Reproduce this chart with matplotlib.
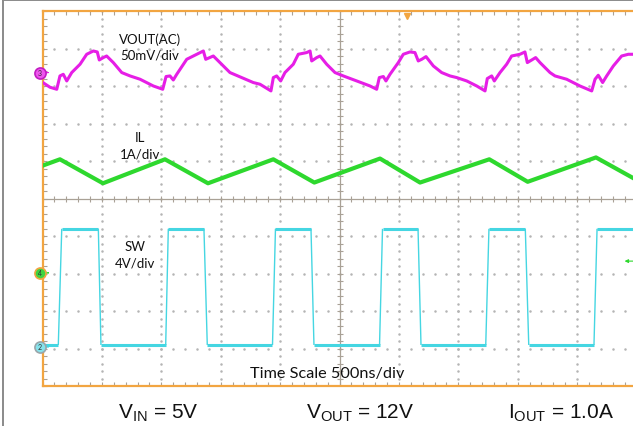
import numpy as np
import matplotlib
matplotlib.use('Agg')
import matplotlib.pyplot as plt
from matplotlib.lines import Line2D
from matplotlib.collections import LineCollection

# scope capture, time in ns (500ns/div, 10 div)
# VOUT(AC) in mV
t_vout = [0, 63, 120, 147, 175, 204, 246, 316, 372, 428, 461, 478, 512, 540, 596, 667,
          737, 821, 933, 1012, 1040, 1073, 1101, 1130, 1214, 1354, 1374, 1438, 1578, 1774,
          1831, 1923, 1943, 1971, 2005, 2041, 2111, 2153, 2224, 2252, 2266, 2308, 2336, 2392,
          2462, 2532, 2645, 2757, 2813, 2835, 2869, 2891, 2925, 2995, 3037, 3093, 3135, 3163,
          3192, 3228, 3290, 3360, 3430, 3487, 3571, 3655, 3725, 3744, 3781, 3803, 3851, 3907,
          3949, 4019, 4061, 4081, 4118, 4151, 4188, 4272, 4314, 4412, 4524, 4623, 4651, 4678,
          4715, 4749, 4805, 4875, 4931, 5000]
vout_mv = [-13, -19.6, -22.3, -4.5, -2.3, -11.2, 0, 11.1, 24.4, 28.8, 27.5, 16.8, 20, 22.1, 13.3, 0,
           -4.5, -8.9, -17.9, -22.3, -5.3, -4.5, -9.9, -2.3, 17.7, 28.8, 17.7, 22.1, 0, -13.3,
           -15.6, -24.5, -6.7, -4.5, -11.2, 0, 11.1, 24.4, 26.7, 28.8, 15.5, 20, 22.1, 11.1,
           0, -4.5, -11.2, -17.9, -22.3, -6.7, -5.3, -11.2, -2.3, 13.3, 24.4, 27.5, 26.7, 15.5,
           17.7, 21.3, 8.8, 0, -4.5, -6.7, -11.2, -17.9, -24.5, -8, -4.5, -11.2, 0, 11.1,
           22.1, 24.4, 27.5, 13.3, 16.8, 20, 13.3, 0, -4.5, -8.9, -17.9, -24.5, -8.9, -3.6,
           -13.3, -4.5, 8.8, 22.1, 24.4, 24.4]

# IL in A
t_il = [0, 147, 509, 1031, 1393, 1943, 2288, 2841, 3178, 3761, 4084, 4659, 5000]
il_a = [2.86, 3.03, 2.39, 3.03, 2.39, 3.03, 2.41, 3.05, 2.41, 3.03, 2.43, 3.08, 2.48]

# SW in V
t_sw = [0, 133, 162, 470, 492, 1037, 1059, 1359, 1387, 1936, 1961, 2260, 2285,
        2837, 2862, 3161, 3186, 3731, 3758, 4064, 4093, 4642, 4668, 5000]
sw_v = [0.2, 0.2, 12.6, 12.6, 0.2, 0.2, 12.6, 12.6, 0.2, 0.2, 12.6, 12.6, 0.2,
        0.2, 12.6, 12.6, 0.2, 0.2, 12.6, 12.6, 0.2, 0.2, 12.6, 12.6]

# channel settings: unit/div, ground marker position (div)
vout_scale, vout_pos = 50.0, 3.365
il_scale, il_pos = 1.0, -1.98
sw_scale, sw_pos = 4.0, -3.955
trig_t = 3066      # trigger position, ns
trig_lvl = -1.667  # ch4 trigger level marker, div

c_vout = '#E61EE6'
c_il = '#2ED82E'
c_sw = '#45D6E2'
c_frame = '#F2A541'
c_grid = '#B4B4B4'
c_tick = '#A9A196'

plt.rcParams['font.family'] = ['Lato', 'DejaVu Sans']
plt.rcParams['mathtext.fontset'] = 'custom'
plt.rcParams['mathtext.rm'] = 'Liberation Sans'

W, H = 633, 427
fig = plt.figure(figsize=(W / 100, H / 100), dpi=100)
# screen: left 42.5px, top 12.3px, bottom 387px, right 636.5px (cropped)
ax = fig.add_axes([42.5 / W, (H - 387) / H, 594 / W, 374.7 / H])
ax.set_xlim(0, 5000)
ax.set_ylim(-5, 5)

# grid dots
xmaj = np.arange(0, 5001, 500)
xmin = np.arange(0, 5001, 100)
ymaj = np.arange(-5, 6, 1)
ymin = np.arange(-5, 5.001, 0.2)
for xv in xmaj[1:-1]:
    if xv != 2500:
        ax.plot(np.full(len(ymin), xv), ymin, ls='none', marker='o', ms=1.8, mew=0,
                color=c_grid, zorder=1)
for yv in ymaj[1:-1]:
    if yv != 0:
        ax.plot(xmin, np.full(len(xmin), yv), ls='none', marker='o', ms=1.8, mew=0,
                color=c_grid, zorder=1)

# center axes with ticks
ax.axhline(0, color=c_tick, lw=0.9, zorder=1)
ax.axvline(2500, color=c_tick, lw=0.9, zorder=1)
ax.plot(xmin, np.zeros(len(xmin)), ls='none', marker='|', ms=4, mew=0.8, color=c_tick, zorder=1)
ax.plot(np.full(len(ymin), 2500), ymin, ls='none', marker='_', ms=4.5, mew=0.8, color=c_tick, zorder=1)

# border ticks
ax.set_xticks(xmin)
ax.set_yticks(ymin)
ax.tick_params(direction='in', length=3, width=0.8, color=c_tick, top=True, right=True,
               labelbottom=False, labelleft=False)
for s in ax.spines.values():
    s.set_color(c_frame)
    s.set_linewidth(1.6)

# traces
sw_d = sw_pos + np.array(sw_v) / sw_scale
pts = np.column_stack([t_sw, sw_d])
segs = np.stack([pts[:-1], pts[1:]], axis=1)
flat = np.abs(np.diff(sw_d)) < 0.5
ax.add_collection(LineCollection(segs, colors=c_sw, linewidths=np.where(flat, 2.2, 1.0), zorder=3))

ax.plot(t_il, il_pos + np.array(il_a) / il_scale, color=c_il, lw=3.0, zorder=4)
ax.plot(t_vout, vout_pos + np.array(vout_mv) / vout_scale, color=c_vout, lw=2.2, zorder=5)

# channel ground markers
marks = [(vout_pos, '3', '#EE55EE', '#C21CC2', c_vout),
         (il_pos, '4', '#3FD43F', c_frame, c_il),
         (sw_pos, '2', '#86E3EC', '#9AA6AA', c_sw)]
for yv, lab, fc, ec, ac in marks:
    ax.plot(-21, yv, 'o', ms=8, mfc=fc, mec=ec, mew=1.2, clip_on=False, zorder=10)
    ax.text(-21, yv, lab, fontsize=5, ha='center', va='center', color='#333333', zorder=11)
    ax.annotate('', xy=(75, yv), xytext=(25, yv), annotation_clip=False,
                arrowprops=dict(arrowstyle='-|>', color=ac, lw=0.8, mutation_scale=5))
ax.annotate('', xy=(4876, trig_lvl), xytext=(5000, trig_lvl), annotation_clip=False,
            arrowprops=dict(arrowstyle='-|>', color=c_il, lw=0.8, mutation_scale=5))
ax.plot(trig_t, 4.88, marker='v', ms=5, color=c_frame, clip_on=False, zorder=10)

# labels
def px(x, y):
    return x / W, 1 - y / H

lab = dict(fontsize=9.5, ha='center', va='baseline', color='#111111')
fig.text(*px(150, 43.5), 'VOUT(AC)', **lab)
fig.text(*px(150, 60), '50mV/div', **lab)
fig.text(*px(140, 142), 'IL', **lab)
fig.text(*px(140, 159), '1A/div', **lab)
fig.text(*px(135, 250.7), 'SW', **lab)
fig.text(*px(135, 267.3), '4V/div', **lab)
fig.text(*px(327.5, 377.7), 'Time Scale 500ns/div', fontsize=11.7, ha='center', va='baseline',
         color='#111111')

bot = dict(fontsize=15, ha='center', va='baseline', color='#111111', family='Liberation Sans')
fig.text(*px(158.5, 419), r'$\mathrm{V_{IN}}$ = 5V', **bot)
fig.text(*px(360, 419), r'$\mathrm{V_{OUT}}$ = 12V', **bot)
fig.text(*px(561, 419), r'$\mathrm{I_{OUT}}$ = 1.0A', **bot)

# outer frame
fig.add_artist(Line2D([3 / W, 3 / W], [0, 1 - 1 / H], transform=fig.transFigure, color='#8A8A8A', lw=1.4))
fig.add_artist(Line2D([3 / W, 1], [1 - 1 / H, 1 - 1 / H], transform=fig.transFigure, color='#8A8A8A', lw=1.4))

fig.savefig('out.png', dpi=100)
